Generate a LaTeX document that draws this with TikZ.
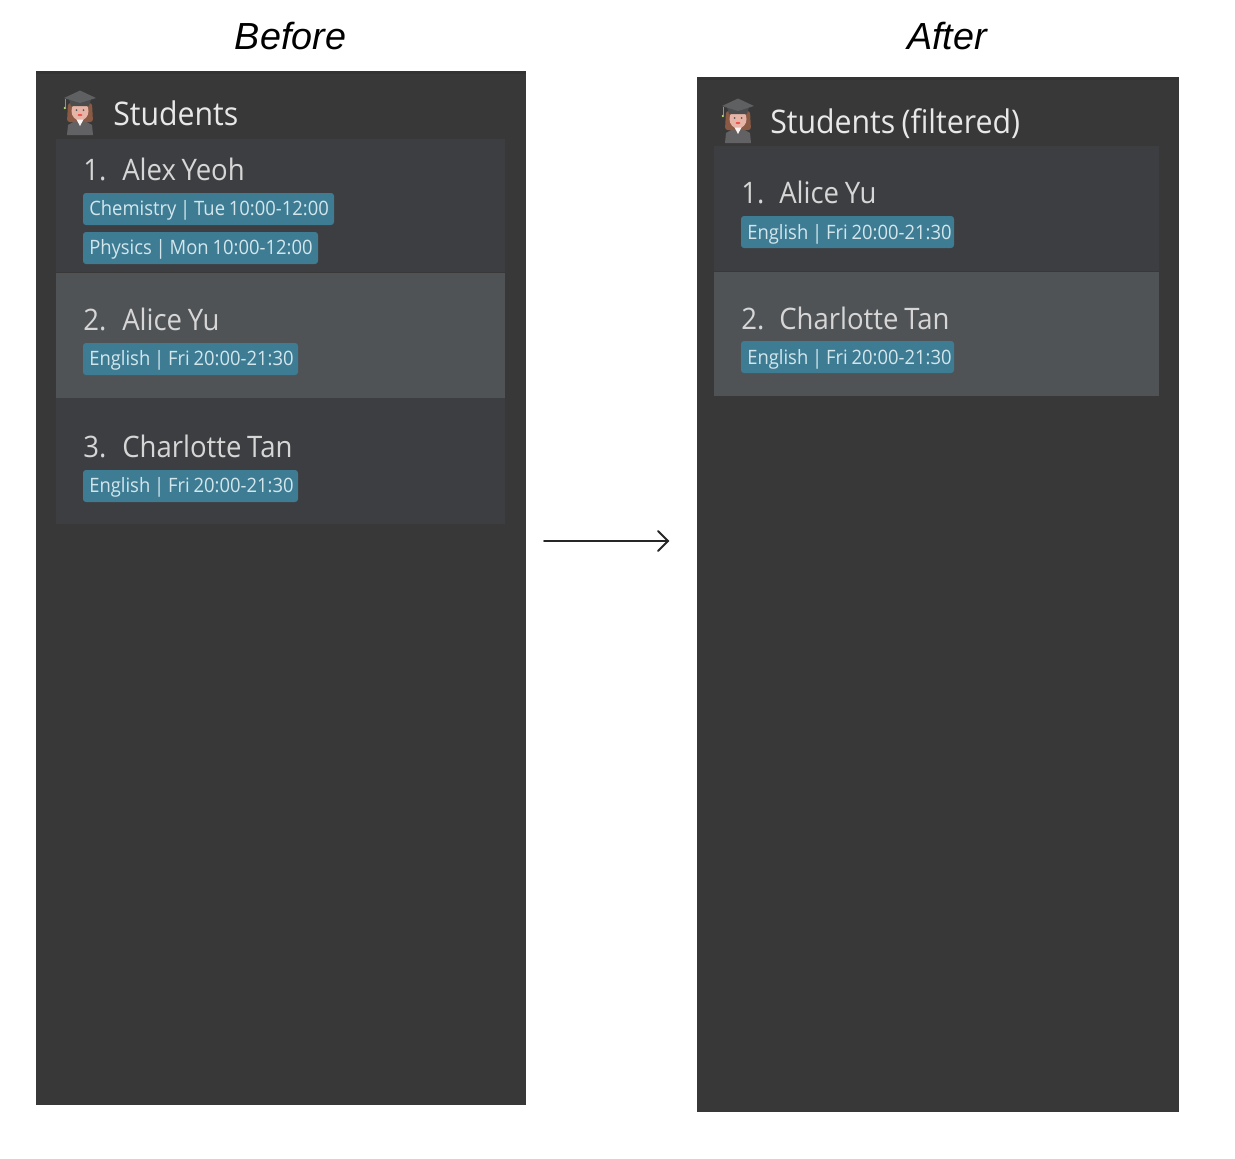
\documentclass[tikz,border=0pt]{standalone}
\usepackage{fontspec}
\setmainfont{Open Sans}
\newfontfamily\capfont{Liberation Sans}
\newfontfamily\uifont[FakeStretch=0.93,WordSpace=1.25]{Open Sans}
\newfontfamily\tagfont[FakeStretch=0.93,WordSpace=0.8]{Open Sans}
\definecolor{panelbg}{HTML}{393839}
\definecolor{panelTop}{HTML}{333333}
\definecolor{cardbg}{HTML}{3D3E41}
\definecolor{cardsel}{HTML}{4F5356}
\definecolor{tagbg}{HTML}{3E7C94}
\definecolor{tagtx}{HTML}{D3E6EC}
\definecolor{titletx}{HTML}{E8E8E8}
\definecolor{nametx}{HTML}{D6D6D6}
\definecolor{capgrey}{HTML}{5E6062}
\definecolor{capdark}{HTML}{4A4C4E}
\definecolor{bodygrey}{HTML}{626264}
\definecolor{skin}{HTML}{E6B5A8}
\definecolor{hairc}{HTML}{8A5A44}
\tikzset{
  panel/.style={fill=panelbg,draw=none},
  cardrow/.style={fill=cardbg,draw=none},
  cardselrow/.style={fill=cardsel,draw=none},
  tagbox/.style={fill=tagbg,draw=none,rounded corners=2.2},
  tagtext/.style={anchor=base west,inner sep=0pt,text=tagtx,font=\tagfont\fontsize{14.85}{18}\selectfont},
  nametext/.style={anchor=base west,inner sep=0pt,text=nametx,font=\uifont\fontsize{22.2}{26}\selectfont},
  titletext/.style={anchor=base west,inner sep=0pt,text=titletx,font=\uifont\fontsize{24.4}{28}\selectfont},
  captext/.style={anchor=base,inner sep=0pt,text=black,font=\capfont\itshape\fontsize{28.3}{34}\selectfont},
}
\newcommand{\gradicon}[2]{%
 \begin{scope}[shift={(#1,#2)}]
  \fill[bodygrey] (-13,29) -- (-12,19) -- (-5,15) -- (5,15) -- (12,19) -- (13,29) -- cycle;
  \fill[hairc,rounded corners=2] (-12,-3) -- (12,-3) -- (13,16) -- (-13,16) -- cycle;
  \fill[skin] (0,5) ellipse (8.5 and 9.5);
  \fill[white!85!skin] (-3.5,13.5) -- (3.5,13.5) -- (0,20) -- cycle;
  \fill[capdark] (-11,-7) -- (11,-7) -- (9,0) -- (-9,0) -- cycle;
  \fill[capgrey] (-16,-8) -- (0,-15.5) -- (16,-8) -- (0,-3) -- cycle;
  \fill[black!65] (-3.5,4) circle (1) (3.5,4) circle (1);
  \fill[red!55!skin] (0,9) ellipse (2.4 and 1.1);
  \fill[capgrey!70!white] (-15.5,-7) rectangle (-14.7,1);
  \fill[yellow!55!green!60!white] (-15.1,2) circle (1.3);
 \end{scope}}
\begin{document}
\begin{tikzpicture}[x=0.75pt,y=-0.75pt]
\useasboundingbox[fill=white] (0,0) rectangle (1235,1158);
% captions
\node[captext] (beforecap) at (290.5,49) {Before};
\node[captext] (aftercap) at (947,49) {After};
% BEFORE panel
\fill[panel] (36,71) rectangle (526,1105);
\fill[panelTop] (36,71) rectangle (526,74);
\fill[cardrow] (56,139) rectangle (505,272);
\fill[cardselrow] (56,273) rectangle (505,398);
\fill[cardrow] (56,398) rectangle (505,524);
\gradicon{80}{106}
\node[titletext] (btitle) at (113,125.5) {Students};
\node[nametext] (bn1) at (83,180.5) {1.};
\node[nametext] (bname1) at (122,180.5) {Alex Yeoh};
\fill[tagbox] (83,193) rectangle (334,225);
\node[tagtext] (bt1) at (89,215) {Chemistry | Tue 10:00-12:00};
\fill[tagbox] (83,232) rectangle (318,264);
\node[tagtext] (bt2) at (89,254) {Physics | Mon 10:00-12:00};
\node[nametext] (bn2) at (83,330.5) {2.};
\node[nametext] (bname2) at (122,330.5) {Alice Yu};
\fill[tagbox] (83,343) rectangle (298,375);
\node[tagtext] (bt3) at (89,365) {English | Fri 20:00-21:30};
\node[nametext] (bn3) at (83,457.5) {3.};
\node[nametext] (bname3) at (122,457.5) {Charlotte Tan};
\fill[tagbox] (83,470) rectangle (298,502);
\node[tagtext] (bt4) at (89,492) {English | Fri 20:00-21:30};
% AFTER panel
\fill[panel] (697,77) rectangle (1179,1112);
\fill[panelTop] (697,77) rectangle (1179,80);
\fill[cardrow] (714,146) rectangle (1159,271);
\fill[cardselrow] (714,272) rectangle (1159,396);
\gradicon{738}{114}
\node[titletext] (atitle) at (770,133.5) {Students (filtered)};
\node[nametext] (an1) at (741,203.5) {1.};
\node[nametext] (aname1) at (779,203.5) {Alice Yu};
\fill[tagbox] (741,216) rectangle (954,248);
\node[tagtext] (at1) at (747,239) {English | Fri 20:00-21:30};
\node[nametext] (an2) at (741,329.5) {2.};
\node[nametext] (aname2) at (779,329.5) {Charlotte Tan};
\fill[tagbox] (741,341) rectangle (954,373);
\node[tagtext] (at2) at (747,364) {English | Fri 20:00-21:30};
% arrow
\coordinate (arrowfrom) at (544,541);
\coordinate (arrowto) at (668,541);
\draw[line width=1.35pt,black!85,line cap=round] (arrowfrom) -- (arrowto);
\draw[line width=1.35pt,black!85,line cap=round,line join=miter] (658,531) -- (arrowto) -- (658,551);
\end{tikzpicture}
\end{document}
